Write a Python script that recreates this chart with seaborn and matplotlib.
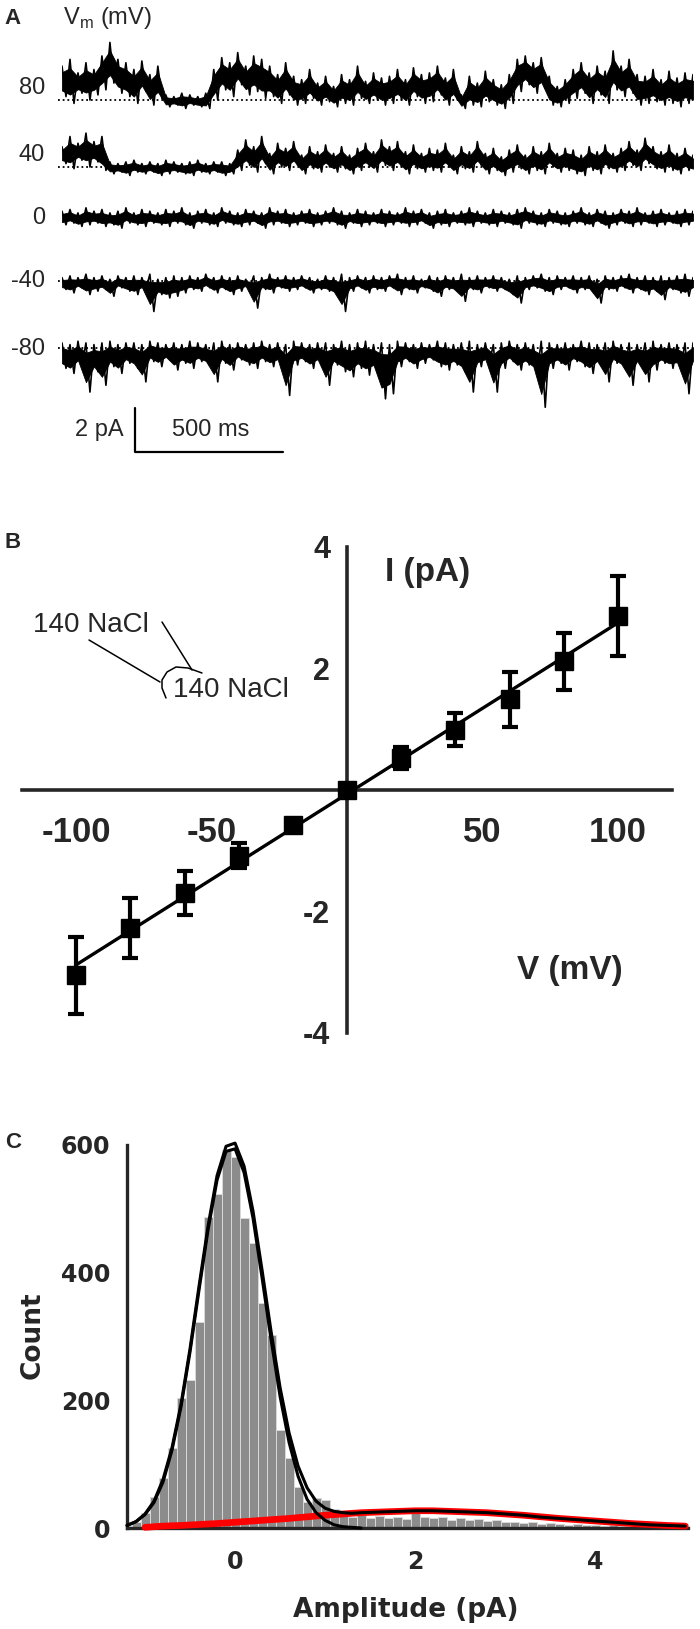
import matplotlib

matplotlib.use("Agg")
import matplotlib.pyplot as plt
import numpy as np
import pandas as pd
import seaborn as sns


# Tamanho final da figura em pixels.
W, H = 700, 1629

# Painel A: registros de canal unico. Envelopes superior e inferior relativos a
# linha de base de cada trace, em unidades de ~0.077 pA,
# 80 amostras ao longo de ~2130 ms.
TRACE_MS = 2130
TRACE_UNIT_PA = 0.077
TRACE_LABELS = ["80", "40", "0", "-40", "-80"]

T80_UP = [20, 24, 16, 22, 18, 26, 34, 24, 22, 18, 23, 15, 20, 3, 2, 4, 3, 2, 4, 18,
          25, 22, 28, 20, 26, 24, 20, 15, 22, 14, 12, 18, 10, 14, 8, 15, 12, 20, 11, 16,
          13, 14, 18, 12, 19, 15, 16, 20, 13, 18, 3, 14, 10, 17, 12, 9, 15, 24, 26, 22,
          25, 14, 8, 12, 18, 22, 16, 20, 17, 29, 20, 24, 15, 14, 18, 12, 17, 13, 16, 15]
T80_LO = [2, -2, 4, 0, 3, 6, 10, 4, 2, -2, 5, -3, 1, -4, -3, -5, -3, -4, -5, 0,
          6, 2, 9, 3, 5, 1, 2, -2, 3, -3, -2, 1, -3, -1, -4, -2, -3, 1, -2, 0,
          -3, -2, 0, -3, 2, -2, -1, 3, -3, 0, -5, -3, -4, -1, -3, -5, -2, 5, 9, 4,
          7, -3, -4, -2, 1, 4, -2, 3, -2, 6, 2, 4, -3, -2, -1, -3, -2, -4, -2, -3]

T40_UP = [12, 18, 14, 20, 15, 18, 3, 2, 3, 4, 2, 3, 2, 4, 3, 2, 3, 4, 2, 3,
          3, 2, 10, 16, 12, 18, 8, 14, 11, 15, 7, 12, 9, 13, 8, 12, 7, 11, 14, 9,
          16, 12, 15, 9, 13, 8, 11, 10, 14, 7, 12, 9, 15, 8, 11, 6, 10, 13, 7, 12,
          9, 14, 8, 11, 10, 7, 12, 9, 13, 8, 11, 15, 10, 17, 12, 9, 13, 8, 11, 7]
T40_LO = [2, -1, 4, 0, 3, -2, -4, -3, -5, -3, -4, -3, -5, -4, -3, -4, -5, -3, -4, -3,
          -5, -4, -2, 1, -3, 2, -4, 0, -2, 1, -4, -1, -3, 0, -3, -1, -4, -2, 0, -3,
          1, -2, 0, -4, -1, -3, -2, -3, 0, -4, -1, -3, 1, -4, -2, -5, -3, -1, -4, -2,
          -4, 0, -3, -2, -4, -5, -2, -4, -1, -3, -2, 1, -2, 2, -1, -3, -2, -4, -2, -3]

T0_UP = [4, 5, 3, 6, 4, 5, 3, 4, 6, 3, 5, 4, 3, 5, 4, 6, 3, 4, 5, 3,
         6, 4, 3, 5, 4, 3, 6, 4, 5, 3, 4, 5, 3, 4, 6, 4, 3, 5, 4, 3,
         5, 4, 3, 6, 4, 5, 3, 4, 5, 3, 4, 6, 4, 3, 5, 4, 3, 5, 6, 4,
         3, 5, 4, 3, 4, 6, 3, 5, 4, 3, 5, 4, 6, 3, 4, 5, 3, 4, 5, 4]
T0_LO = [-4, -3, -5, -4, -3, -5, -4, -6, -3, -4, -5, -3, -4, -5, -3, -4, -6, -3, -4, -5,
         -3, -4, -5, -4, -3, -6, -4, -3, -5, -4, -3, -5, -4, -3, -4, -6, -3, -5, -4, -3,
         -5, -4, -3, -5, -4, -3, -6, -4, -5, -3, -4, -5, -3, -4, -5, -3, -4, -6, -3, -4,
         -5, -3, -4, -5, -3, -4, -5, -3, -6, -4, -3, -5, -4, -3, -5, -4, -3, -5, -4, -3]

TM40_UP = [2, 3, 2, 4, 2, 3, 1, 3, 2, 3, 2, 4, 1, 2, 3, 2, 3, 2, 4, 2,
           3, 2, 3, 1, 3, 2, 4, 2, 3, 2, 3, 2, 1, 3, 2, 4, 2, 3, 2, 3,
           2, 3, 4, 2, 3, 1, 3, 2, 3, 2, 4, 2, 3, 2, 3, 2, 1, 3, 2, 3,
           4, 2, 3, 2, 3, 2, 3, 1, 3, 2, 3, 4, 2, 3, 2, 3, 2, 3, 4, 2]
TM40_LO = [-5, -7, -4, -8, -6, -5, -9, -4, -6, -8, -5, -18, -8, -10, -9, -7, -5, -6, -4, -7,
           -5, -8, -6, -4, -16, -5, -7, -4, -6, -5, -4, -7, -5, -6, -8, -18, -6, -4, -7, -5,
           -6, -4, -8, -5, -7, -4, -6, -9, -5, -6, -12, -5, -7, -4, -6, -5, -8, -13, -5, -4,
           -6, -8, -5, -4, -7, -5, -6, -13, -5, -6, -4, -7, -5, -8, -6, -11, -5, -7, -9, -5]

TM80_UP = [3, 2, 4, 3, 2, 3, 4, 2, 3, 3, 2, 4, 3, 2, 3, 2, 4, 3, 2, 3,
           4, 2, 3, 2, 3, 4, 2, 3, 2, 4, 3, 2, 3, 3, 2, 4, 2, 3, 4, 2,
           3, 2, 4, 3, 2, 3, 2, 4, 3, 2, 3, 4, 2, 3, 2, 3, 4, 2, 3, 2,
           4, 3, 2, 3, 2, 4, 3, 2, 3, 4, 2, 3, 2, 3, 4, 2, 3, 2, 3, 3]
TM80_LO = [-12, -15, -10, -26, -14, -22, -11, -15, -9, -12, -20, -8, -11, -7, -13, -9, -12, -8, -10, -20,
           -9, -13, -7, -10, -12, -8, -11, -9, -28, -10, -8, -12, -9, -22, -10, -14, -17, -12, -16, -13,
           -30, -27, -11, -8, -12, -9, -7, -11, -13, -10, -14, -26, -11, -9, -26, -12, -8, -13, -10, -14,
           -35, -12, -9, -13, -8, -11, -15, -10, -20, -9, -12, -22, -10, -20, -13, -9, -12, -11, -27, -10]

TRACES_UP = [T80_UP, T40_UP, T0_UP, TM40_UP, TM80_UP]
TRACES_LO = [T80_LO, T40_LO, T0_LO, TM40_LO, TM80_LO]

# Layout do painel A: linha de base de cada trace (pixel) e escala vertical.
TRACE_BASE_PX = [100, 167, 218, 281, 348]
PX_PER_PA = 22
DOTTED_TRACES = [0, 1, 3, 4]
SCALE_PA = 2
SCALE_MS = 500
SCALE_X0_MS = 246
SCALE_BOTTOM_PX = 452

# Painel B: curva I-V.
V_MV = [-100, -80, -60, -40, -20, 0, 20, 40, 60, 80, 100]
I_PA = [-3.05, -2.27, -1.70, -1.08, -0.58, 0.0, 0.52, 0.99, 1.49, 2.12, 2.86]
I_ERR = [0.63, 0.50, 0.36, 0.20, 0.08, 0.05, 0.18, 0.27, 0.45, 0.47, 0.66]

# Painel C: histograma de amplitudes e ajustes gaussianos.
BIN_START = -1.2
BIN_WIDTH = 0.1
COUNTS = [3, 9, 24, 49, 78, 125, 203, 232, 323, 487, 524, 592,
          581, 485, 446, 352, 302, 153, 109, 65, 41, 47,
          44, 29, 22, 18, 20, 16, 19, 15, 17, 14,
          31, 18, 15, 17, 13, 16, 12, 14, 11, 12,
          9, 10, 8, 9, 7, 8, 6, 5, 6, 4,
          5, 3, 4, 3, 2, 3, 2, 2, 1, 2,
          1]

FIT1_X = [-1.2, -1.1, -1.0, -0.9, -0.8, -0.7, -0.6, -0.5, -0.4, -0.3, -0.2, -0.1, 0.0,
          0.1, 0.2, 0.3, 0.4, 0.5, 0.6, 0.7, 0.8, 0.9, 1.0, 1.1, 1.2, 1.3, 1.4]
FIT1_Y = [4, 10, 21, 40, 72, 122, 190, 276, 373, 467, 545, 590, 594,
          557, 485, 392, 295, 206, 134, 81, 45, 24, 12, 5, 2, 1, 0]

SUM_X = FIT1_X + [1.6, 1.8, 2.0, 2.2, 2.4, 2.6, 2.8, 3.0, 3.2, 3.4, 3.6, 3.8,
                  4.0, 4.2, 4.4, 4.6, 4.8, 5.0]
SUM_Y = [4, 10, 22, 42, 76, 126, 194, 281, 379, 473, 552, 598, 603,
         567, 496, 404, 308, 220, 149, 97, 63, 42, 31, 26, 24, 23, 24,
         25, 26, 27, 27, 26, 25, 24, 22, 20, 17, 15, 13, 11, 9, 7, 5, 4, 3]

FIT2_X = [-1.0, -0.8, -0.6, -0.4, -0.2, 0.0, 0.2, 0.4, 0.6, 0.8, 1.0, 1.2, 1.4, 1.6, 1.8,
          2.0, 2.2, 2.4, 2.6, 2.8, 3.0, 3.2, 3.4, 3.6, 3.8, 4.0, 4.2, 4.4, 4.6, 4.8, 5.0]
FIT2_Y = [1, 3, 4, 5.5, 7, 9, 11, 13, 15, 17.5, 20, 22, 24, 25, 26,
          27, 27, 26, 25, 24, 22, 20, 17.5, 15, 13, 11, 9, 7, 5.5, 4, 3]

SANS = ["Liberation Sans", "DejaVu Sans"]
NARROW = ["Liberation Sans Narrow", "Liberation Sans", "DejaVu Sans"]
WIDE = ["DejaVu Sans"]


def px_rect(x0, y0, x1, y1):
    """Converte um retangulo em pixels (origem no topo) para coordenadas da figura."""
    return [x0 / W, 1 - y1 / H, (x1 - x0) / W, (y1 - y0) / H]


def px_to_pa(py):
    """Posicao vertical em pixel -> pA no eixo do painel A (trace de 80 mV = 0)."""
    return (TRACE_BASE_PX[0] - py) / PX_PER_PA


def painel_a(fig, ov):
    """Traces de corrente a diferentes potenciais."""
    ax = fig.add_axes(px_rect(62, 25, 693, 460))
    ax.set_xlim(0, TRACE_MS)
    ax.set_ylim(px_to_pa(460), px_to_pa(25))
    ax.axis("off")

    t = np.linspace(0, TRACE_MS, len(T80_UP))
    dt = t[1] - t[0]
    for k, base_px in enumerate(TRACE_BASE_PX):
        off = px_to_pa(base_px)
        up = off + np.array(TRACES_UP[k]) * TRACE_UNIT_PA
        lo = off + np.array(TRACES_LO[k]) * TRACE_UNIT_PA
        # nucleo solido do ruido e serrilhado ate os envelopes
        faixa = up - lo
        ax.fill_between(t, lo + 0.2 * faixa, up - 0.2 * faixa, color="black", lw=0.6)
        xs = np.empty(2 * len(t))
        ys = np.empty(2 * len(t))
        xs[0::2] = t
        xs[1::2] = t + dt / 2
        ys[0::2] = up
        ys[1::2] = lo
        ax.plot(xs[:-1], ys[:-1], color="black", lw=1.2)
        if k in DOTTED_TRACES:
            ax.hlines(off, -14, TRACE_MS + 4, colors="black", lw=1.3,
                      linestyles=(0, (1, 1.6)), clip_on=False, zorder=3)

    y0 = px_to_pa(SCALE_BOTTOM_PX)
    ax.plot([SCALE_X0_MS, SCALE_X0_MS, SCALE_X0_MS + SCALE_MS],
            [y0 + SCALE_PA, y0, y0], color="black", lw=1.6, clip_on=False)

    ov.text(4, 18, "A", fontsize=16, fontweight="bold", va="center", family=SANS)
    ov.text(63, 18, r"V$_\mathregular{m}$ (mV)", fontsize=17, va="center", family=SANS)
    label_y = [88, 155, 218, 281, 349]
    for lbl, y in zip(TRACE_LABELS, label_y):
        ov.text(45, y, lbl, fontsize=17, ha="right", va="center", family=SANS)
    ov.text(75, 430, "2 pA", fontsize=17, va="center", family=SANS)
    ov.text(172, 430, "500 ms", fontsize=17, va="center", family=SANS)


def painel_b(fig, ov):
    """Curva corrente-voltagem com ajuste linear."""
    ax = fig.add_axes(px_rect(22, 547, 672, 1033))
    ax.set_xlim(-120, 120)
    ax.set_ylim(-4, 4)
    for lado in ["top", "right"]:
        ax.spines[lado].set_visible(False)
    for lado in ["left", "bottom"]:
        ax.spines[lado].set_position(("data", 0))
        ax.spines[lado].set_linewidth(2.6)

    sns.regplot(x=V_MV, y=I_PA, ax=ax, scatter=False, ci=None, color="black",
                line_kws={"lw": 2.4})
    ax.errorbar(V_MV, I_PA, yerr=I_ERR, fmt="s", ms=13, mfc="black", mec="black",
                ecolor="black", elinewidth=3, capsize=6, capthick=3, zorder=4,
                clip_on=False)

    ax.set_xticks([-100, -50, 50, 100])
    ax.set_yticks([-4, -2, 2, 4])
    ax.tick_params(axis="x", direction="out", length=9, width=2.4, pad=10, labelsize=25)
    ax.tick_params(axis="y", direction="out", length=7, width=2.4, pad=5, labelsize=22)
    for lbl in ax.get_xticklabels() + ax.get_yticklabels():
        lbl.set_fontweight("bold")
        lbl.set_family(NARROW)
    ax.set_xlabel("")
    ax.set_ylabel("")

    ov.text(4, 543, "B", fontsize=16, fontweight="bold", va="center", family=SANS)
    ov.text(385, 573, "I (pA)", fontsize=24, fontweight="bold", va="center", family=NARROW)
    ov.text(517, 970, "V (mV)", fontsize=24, fontweight="bold", va="center", family=NARROW)
    ov.text(33, 625, "140 NaCl", fontsize=20, va="center", family=SANS)
    ov.text(173, 690, "140 NaCl", fontsize=20, va="center", family=SANS)
    ov.plot([89, 160], [640, 682], color="black", lw=1.1)
    ov.plot([162, 192], [622, 670], color="black", lw=1.1)
    ov.plot([166, 162, 162, 167, 176, 188, 202], [698, 688, 680, 672, 667, 668, 673],
            color="black", lw=1.1)


def painel_c(fig, ov):
    """Histograma de amplitudes com ajustes."""
    ax = fig.add_axes(px_rect(127, 1145, 688, 1528))
    centers = BIN_START + BIN_WIDTH * np.arange(len(COUNTS))
    hist_df = pd.DataFrame({"amplitude": centers, "count": COUNTS})
    lo_edge = float(BIN_START - BIN_WIDTH / 2)
    hi_edge = float(centers[-1] + BIN_WIDTH / 2)

    sns.histplot(data=hist_df, x="amplitude", weights="count", binwidth=BIN_WIDTH,
                 binrange=(lo_edge, hi_edge), ax=ax, color="#8c8c8c",
                 edgecolor="#d9d9d9", linewidth=0.7, alpha=1)
    sns.lineplot(x=FIT2_X, y=FIT2_Y, ax=ax, color="red", lw=4.8, zorder=3)
    sns.lineplot(x=FIT1_X, y=FIT1_Y, ax=ax, color="black", lw=2.2, zorder=4)
    sns.lineplot(x=SUM_X, y=SUM_Y, ax=ax, color="black", lw=2.2, zorder=4)
    for line in ax.lines:
        line.set_clip_on(False)

    ax.set_xlim(-1.2, 5.03)
    ax.set_ylim(0, 600)
    for lado in ["top", "right"]:
        ax.spines[lado].set_visible(False)
    for lado in ["left", "bottom"]:
        ax.spines[lado].set_linewidth(2.4)
    ax.set_xticks([0, 2, 4])
    ax.set_yticks([0, 200, 400, 600])
    ax.tick_params(axis="x", direction="out", length=7, width=2.4, pad=9, labelsize=17)
    ax.tick_params(axis="y", direction="out", length=7, width=2.4, pad=5, labelsize=17)
    for lbl in ax.get_xticklabels() + ax.get_yticklabels():
        lbl.set_fontweight("bold")
        lbl.set_family(WIDE)
    ax.set_xlabel("")
    ax.set_ylabel("")

    ov.text(5, 1143, "C", fontsize=16, fontweight="bold", va="center", family=SANS)
    ov.text(33, 1335, "Count", fontsize=19, fontweight="bold", rotation=90,
            ha="center", va="center", family=WIDE)
    ov.text(406, 1610, "Amplitude (pA)", fontsize=19, fontweight="bold",
            ha="center", va="center", family=WIDE)


def main() -> None:
    sns.set_style("white")
    plt.rcParams["font.family"] = SANS
    plt.rcParams["axes.unicode_minus"] = False

    fig = plt.figure(figsize=(W / 100, H / 100), dpi=100)
    fig.patch.set_facecolor("white")

    # Eixo de sobreposicao em pixels para textos e esquemas.
    ov = fig.add_axes([0, 0, 1, 1], zorder=10)
    ov.set_xlim(0, W)
    ov.set_ylim(H, 0)
    ov.axis("off")
    ov.patch.set_alpha(0)

    painel_a(fig, ov)
    painel_b(fig, ov)
    painel_c(fig, ov)

    fig.savefig("out.png", dpi=100, facecolor="white")
    plt.close(fig)


if __name__ == "__main__":
    main()
